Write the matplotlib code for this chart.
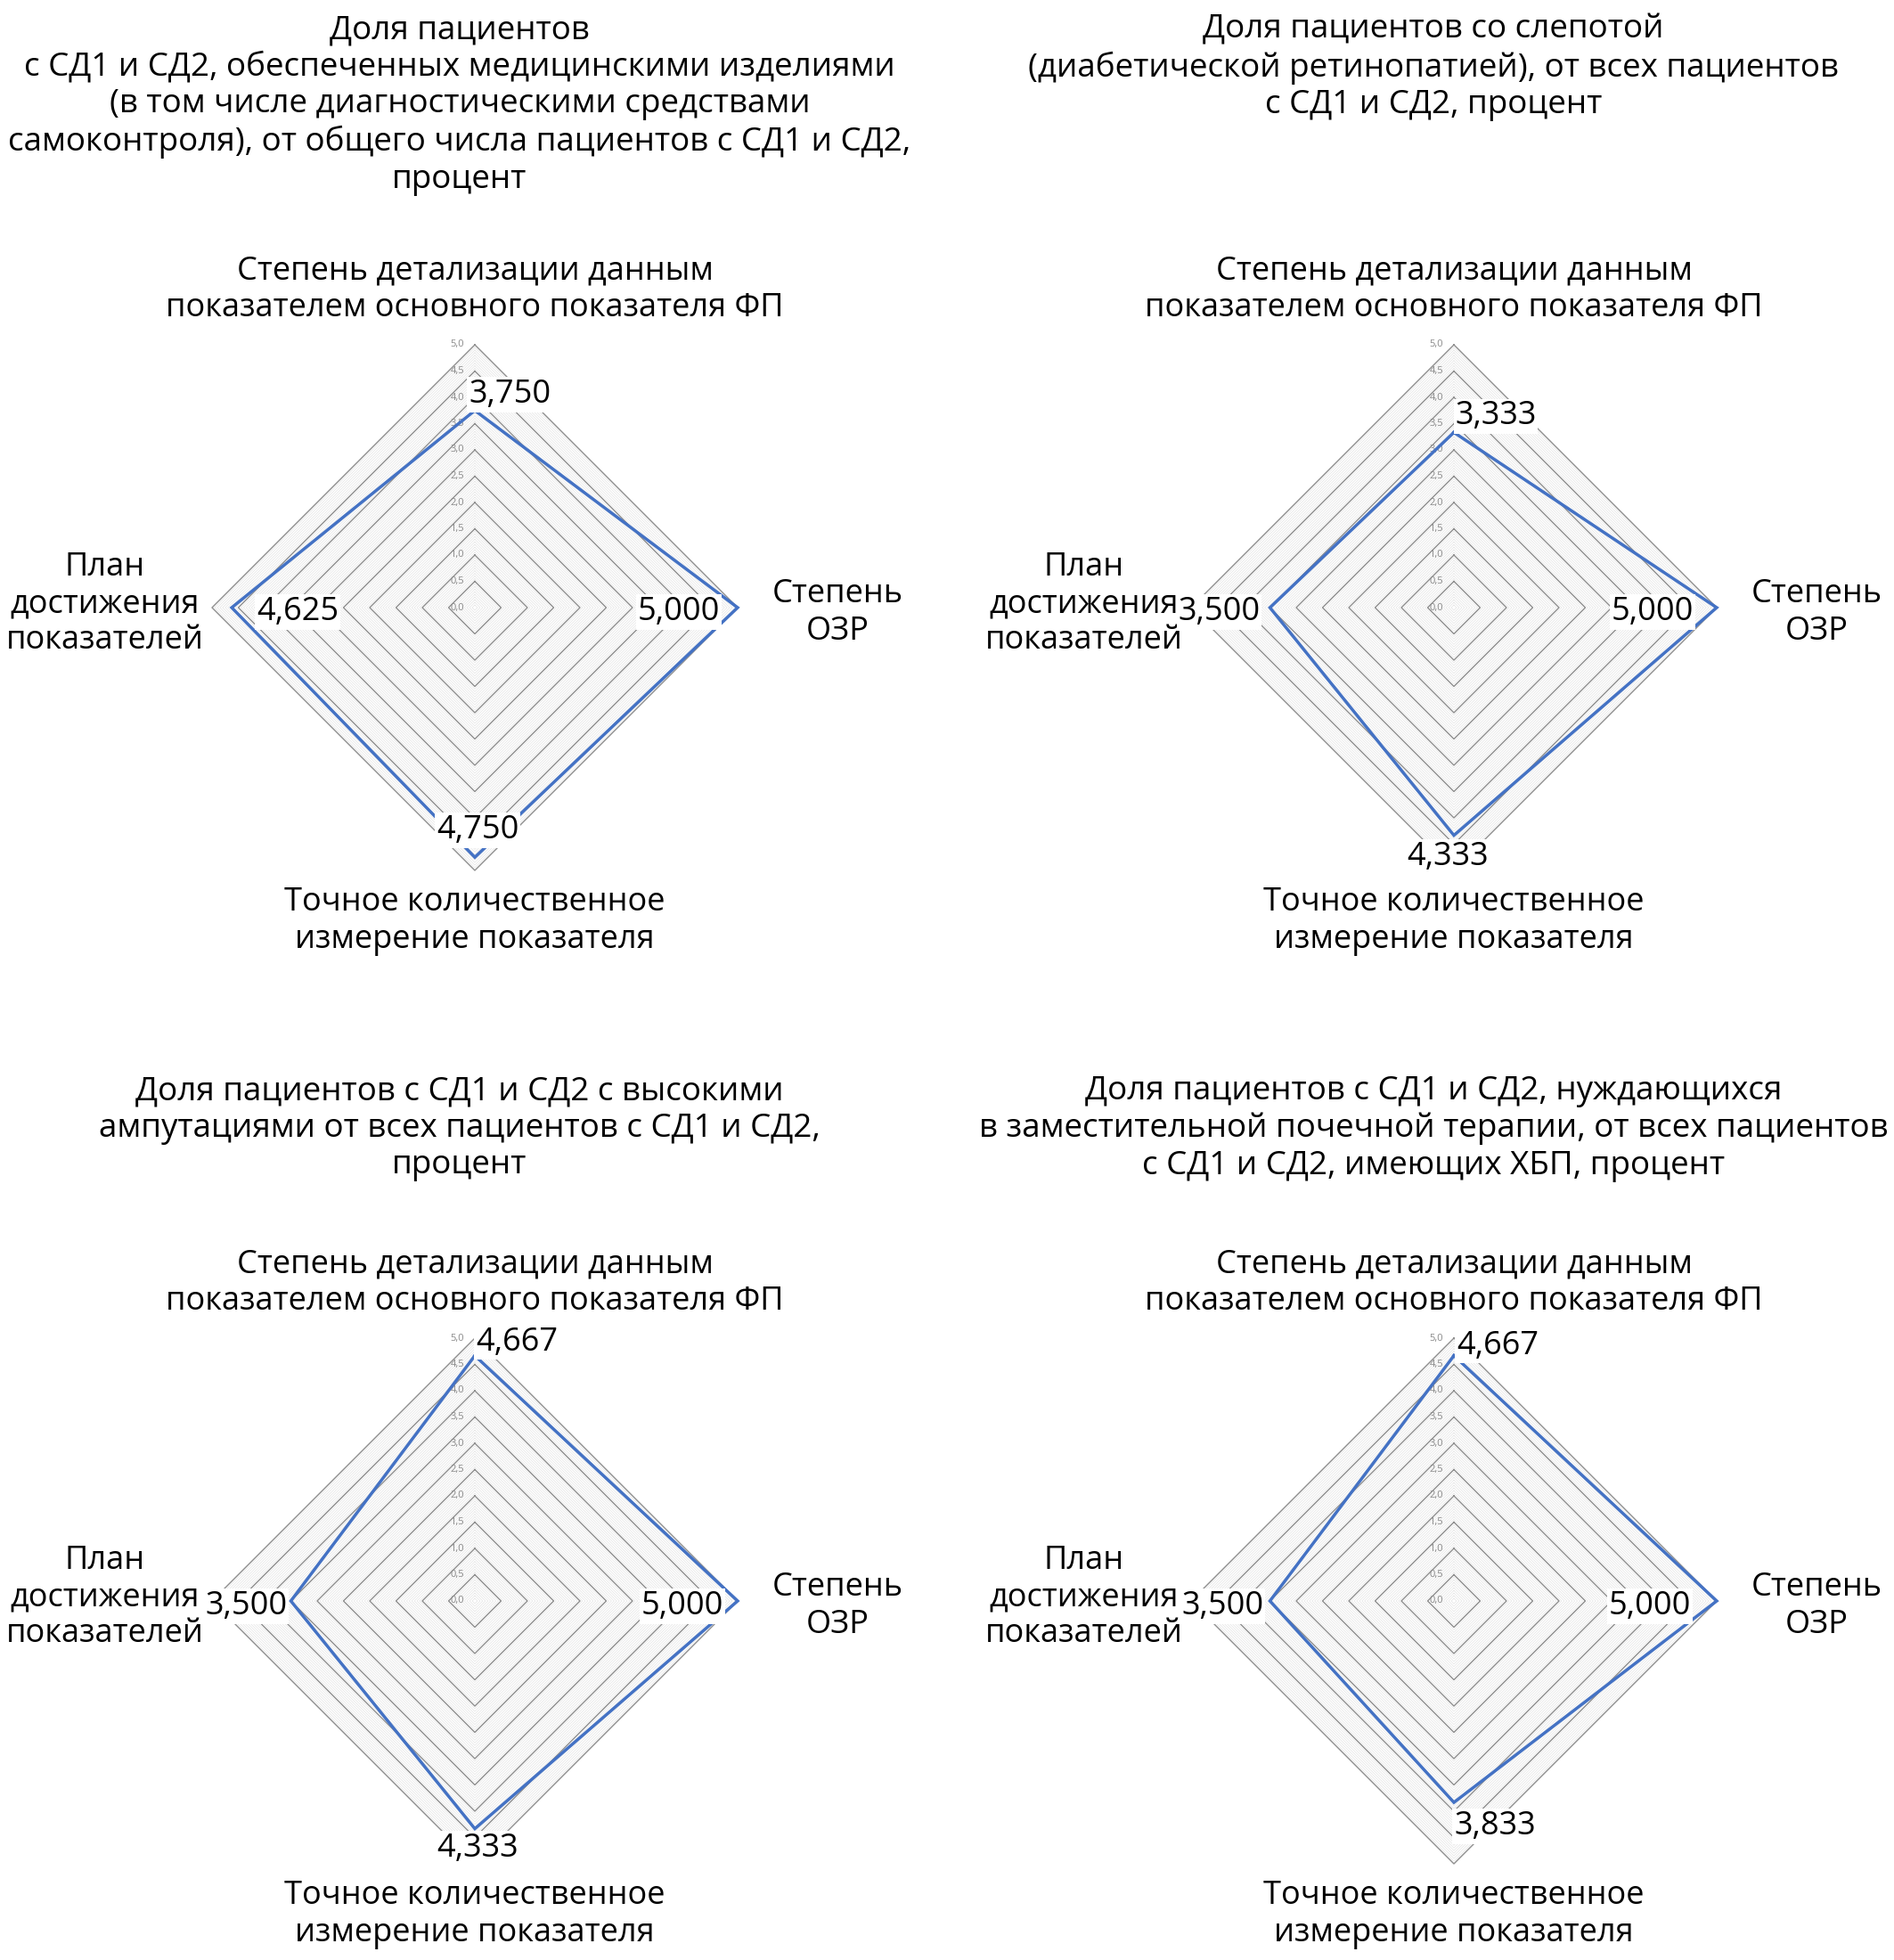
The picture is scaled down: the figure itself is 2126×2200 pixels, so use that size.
import numpy as np
import matplotlib
matplotlib.use("Agg")
import matplotlib.pyplot as plt

plt.rcParams['font.family'] = ['Open Sans', 'DejaVu Sans']

# --- data ---
categories = [
    "Степень детализации данным\nпоказателем основного показателя ФП",
    "Степень\nОЗР",
    "Точное количественное\nизмерение показателя",
    "План\nдостижения\nпоказателей",
]
titles = [
    "Доля пациентов\nс СД1 и СД2, обеспеченных медицинскими изделиями\n"
    "(в том числе диагностическими средствами\n"
    "самоконтроля), от общего числа пациентов с СД1 и СД2,\nпроцент",
    "Доля пациентов со слепотой\n(диабетической ретинопатией), от всех пациентов\n"
    "с СД1 и СД2, процент",
    "Доля пациентов с СД1 и СД2 с высокими\nампутациями от всех пациентов с СД1 и СД2,\n"
    "процент",
    "Доля пациентов с СД1 и СД2, нуждающихся\nв заместительной почечной терапии, от всех пациентов\n"
    "с СД1 и СД2, имеющих ХБП, процент",
]
values_1 = [3.750, 5.000, 4.750, 4.625]
values_2 = [3.333, 5.000, 4.333, 3.500]
values_3 = [4.667, 5.000, 4.333, 3.500]
values_4 = [4.667, 5.000, 3.833, 3.500]
all_values = [values_1, values_2, values_3, values_4]

r_max = 5.0
major_ticks = np.arange(0, 5.01, 0.5)
minor_ticks = np.arange(0, 5.001, 0.05)

# --- layout (pixels of the 2126x2200 canvas) ---
W, H = 2126, 2200
centers = [(533, 682), (1632, 682), (533, 1797), (1632, 1797)]
title_pos = [(516, 118), (1609, 76), (516, 1267), (1609, 1267)]
R_PX = 295          # pixels for r = 5.0
HALF = 360          # axes half size, pixels
# data-label offsets (pixels) per panel: top, right, bottom, left
label_off = [
    [(39, 18), (-66, -5), (3, 30), (74, -5)],
    [(47, 18), (-72, -5), (-7, -24), (-57, -5)],
    [(47, 15), (-62, -6), (3, -22), (-50, -6)],
    [(49, 11), (-75, -6), (46, -27), (-53, -6)],
]
cat_off = [(0, 62), (112, -6), (0, -57), (-120, 4)]

theta = np.arange(len(categories)) * 2 * np.pi / len(categories)
sx, sy = np.sin(theta), np.cos(theta)

fig = plt.figure(figsize=(W / 100, H / 100), dpi=100)

for i, vals in enumerate(all_values):
    cx, cy = centers[i]
    ax = fig.add_axes([(cx - HALF) / W, 1 - (cy + HALF) / H, 2 * HALF / W, 2 * HALF / H])
    lim = r_max * HALF / R_PX
    ax.set_xlim(-lim, lim)
    ax.set_ylim(-lim, lim)
    ax.axis('off')

    # polygon grid
    for r in minor_ticks:
        ax.plot(np.append(r * sx, r * sx[0]), np.append(r * sy, r * sy[0]),
                color='#e4e4e4', lw=0.5, zorder=1)
    for r in major_ticks:
        ax.plot(np.append(r * sx, r * sx[0]), np.append(r * sy, r * sy[0]),
                color='#8f8f8f', lw=1.0, zorder=2)
        ax.annotate(f"{r:.1f}".replace('.', ','), (0, r), xytext=(-12, 0),
                    textcoords='offset pixels', ha='right', va='center',
                    fontsize=8, color='#8a8a8a', zorder=3)

    # series
    v = np.array(vals)
    ax.plot(np.append(v * sx, v[0] * sx[0]), np.append(v * sy, v[0] * sy[0]),
            color='#4472C4', lw=2.5, zorder=4, solid_joinstyle='miter')

    # data labels
    for k, val in enumerate(vals):
        ax.annotate(f"{val:.3f}".replace('.', ','), (val * sx[k], val * sy[k]),
                    xytext=label_off[i][k], textcoords='offset pixels',
                    ha='center', va='center', fontsize=26, color='black', zorder=5,
                    bbox=dict(boxstyle='square,pad=0.05', fc='white', ec='none'))

    # category labels
    for k, cat in enumerate(categories):
        ax.annotate(cat, (r_max * sx[k], r_max * sy[k]), xytext=cat_off[k],
                    textcoords='offset pixels', ha='center', va='center',
                    fontsize=26, linespacing=1.2, annotation_clip=False)

    # panel title
    tx, ty = title_pos[i]
    fig.text(tx / W, 1 - ty / H, titles[i], ha='center', va='center',
             fontsize=26.5, linespacing=1.2)

fig.savefig("out.png", dpi=100, facecolor='white')
